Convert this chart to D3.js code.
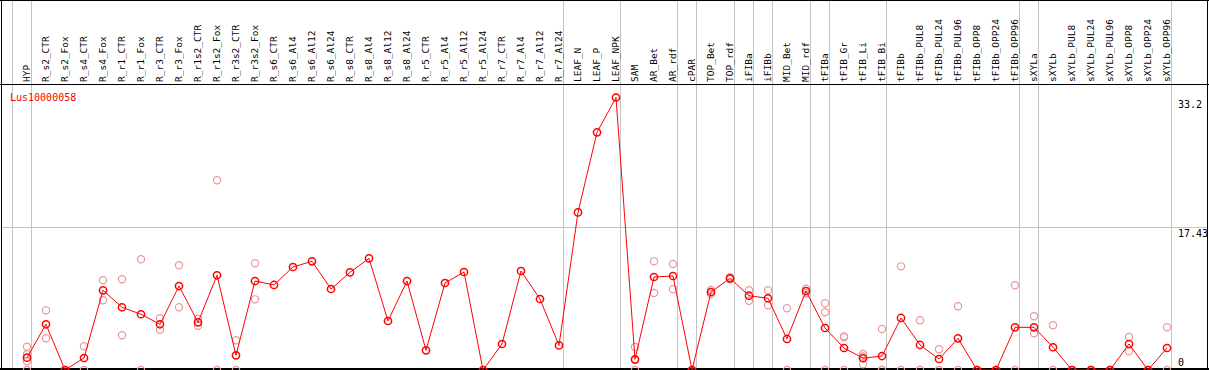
<!DOCTYPE html>
<html>
<head>
<meta charset="utf-8">
<script src="https://cdn.jsdelivr.net/npm/d3@7"></script>
<style>
  body { margin: 0; background: #fff; }
  svg { display: block; }
  text { font-family: "DejaVu Sans Mono", monospace; }
</style>
</head>
<body>
<div id="chart"></div>
<script>
/* CONSTANTS AND GLOBALS */
const width = 1209;
const height = 370;

/* DATA */
const categories = ["HYP", "R_s2_CTR", "R_s2_Fox", "R_s4_CTR", "R_s4_Fox", "R_r1_CTR", "R_r1_Fox",
  "R_r3_CTR", "R_r3_Fox", "R_r1s2_CTR", "R_r1s2_Fox", "R_r3s2_CTR", "R_r3s2_Fox",
  "R_s6_CTR", "R_s6_Al4", "R_s6_Al12", "R_s6_Al24", "R_s8_CTR", "R_s8_Al4", "R_s8_Al12", "R_s8_Al24",
  "R_r5_CTR", "R_r5_Al4", "R_r5_Al12", "R_r5_Al24", "R_r7_CTR", "R_r7_Al4", "R_r7_Al12", "R_r7_Al24",
  "LEAF_N", "LEAF_P", "LEAF_NPK", "SAM", "AR_Bet", "AR_rdf", "cPAR", "TOP_Bet", "TOP_rdf",
  "iFIBa", "iFIBb", "MID_Bet", "MID_rdf", "tFIBa", "tFIB_Gr", "tFIB_Li", "tFIB_Bi", "tFIBb",
  "tFIBb_PUL8", "tFIBb_PUL24", "tFIBb_PUL96", "tFIBb_OPP8", "tFIBb_OPP24", "tFIBb_OPP96",
  "sXYLa", "sXYLb", "sXYLb_PUL8", "sXYLb_PUL24", "sXYLb_PUL96", "sXYLb_OPP8", "sXYLb_OPP24", "sXYLb_OPP96"];

// mean expression per sample
const means = [1.5, 5.57, 0, 1.46, 9.71, 7.64, 6.79, 5.57, 10.23, 5.81, 11.54, 1.79, 10.84,
  10.36, 12.55, 13.24, 9.87, 11.9, 13.6, 5.97, 10.84,
  2.4, 10.6, 11.94, 0, 3.17, 12.06, 8.65, 3.0,
  19.2, 28.96, 33.2, 1.3, 11.33, 11.45, 0, 9.5, 11.17,
  9.05, 8.74, 3.78, 9.62, 5.12, 2.68, 1.43, 1.7, 6.34,
  3.05, 1.34, 3.86, 0, 0, 5.2,
  5.2, 2.77, 0, 0, 0, 3.17, 0, 2.68];

// replicates (null = no replicate)
const repA = [2.84, 7.27, 0, 2.89, 10.93, 11.05, 13.49, 6.3, 12.76, 6.25, 23.11, 3.62, 13.0,
  null, null, null, null, null, null, null, null,
  null, null, null, null, null, null, null, null,
  null, null, null, 2.8, 13.24, 12.91, 0, 9.75, 11.3,
  9.71, 9.71, 7.52, 9.9, 8.13, 4.1, 1.95, 5.0, 12.63,
  6.06, 2.52, 7.76, 0, 0, 10.32,
  6.54, 5.45, 0, 0, 0, 4.02, 0, 5.2];
const repB = [1.91, 3.86, 0, 0, 8.49, 4.23, 0, 4.91, 7.64, 5.4, 0, 0, 8.61,
  null, null, null, null, null, null, null, null,
  null, null, null, null, null, null, null, null,
  null, null, null, 1.2, 9.38, 9.83, 0, 9.25, 11.05,
  8.44, 7.88, 0, 9.35, 7.03, 3.98, 1.65, 0, 0,
  0, 0, 0, 0, 0, 0,
  4.47, 0, 0, 0, 0, 2.28, 0, 0];
const repC = [1.06, null, null, null, null, null, null, null, null, null, null, null, null,
  null, null, null, null, null, null, null, null,
  null, null, null, null, null, null, null, null,
  null, null, null, 0, null, null, null, null, null,
  null, null, null, null, 0, 0, 0.69, 0, null,
  null, null, null, null, null, null,
  null, null, null, null, null, null, null, null];
const repD = [0, null, null, null, null, null, null, null, null, null, null, null, null,
  null, null, null, null, null, null, null, null,
  null, null, null, null, null, null, null, null,
  null, null, null, null, null, null, null, null, null,
  null, null, null, null, null, null, null, null, null,
  null, null, null, null, null, null,
  null, null, null, null, null, null, null, null];

// last sample of each group (a separator line is drawn after it)
const groupEnds = ["HYP", "R_r7_Al24", "LEAF_NPK", "AR_rdf", "cPAR", "TOP_rdf", "iFIBa", "iFIBb",
  "MID_rdf", "tFIBa", "tFIB_Bi", "tFIBb_OPP96", "sXYLa", "sXYLb_OPP96"];

const geneName = "Lus10000058";
const yTicks = [33.2, 17.43, 0];

/* SCALES */
const xScale = d3.scalePoint()
  .domain(categories)
  .range([27, 1167]);

const yScale = d3.scaleLinear()
  .domain([0, d3.max(means)])
  .range([370, 97.5]);

/* HTML ELEMENTS */
const svg = d3.select("#chart")
  .append("svg")
  .attr("width", width)
  .attr("height", height)
  .style("background-color", "white");

// group separators
const sepX = [xScale(categories[0]) - 15].concat(groupEnds.map(c => xScale(c) + 4));
svg.selectAll(".sep")
  .data(sepX)
  .join("line")
  .attr("class", "sep")
  .attr("x1", d => Math.round(d) + 0.5)
  .attr("x2", d => Math.round(d) + 0.5)
  .attr("y1", 0)
  .attr("y2", 369)
  .attr("stroke", "#c4c4c4")
  .attr("stroke-width", 1);

// middle gridline
svg.append("line")
  .attr("x1", 2)
  .attr("x2", 1207)
  .attr("y1", Math.round(yScale(yTicks[1])) + 0.5)
  .attr("y2", Math.round(yScale(yTicks[1])) + 0.5)
  .attr("stroke", "#c4c4c4");

// frame
svg.append("line").attr("x1", 0).attr("x2", width).attr("y1", 0.5).attr("y2", 0.5).attr("stroke", "#000");
svg.append("line").attr("x1", 0).attr("x2", width).attr("y1", 84.5).attr("y2", 84.5).attr("stroke", "#000");
svg.append("line").attr("x1", 1.5).attr("x2", 1.5).attr("y1", 0).attr("y2", 370).attr("stroke", "#000");
svg.append("line").attr("x1", 1207.5).attr("x2", 1207.5).attr("y1", 0).attr("y2", 370).attr("stroke", "#000");
svg.append("line").attr("x1", 0).attr("x2", width).attr("y1", 369).attr("y2", 369)
  .attr("stroke", "#000").attr("stroke-width", 2);

// sample labels
svg.selectAll(".cat")
  .data(categories)
  .join("text")
  .attr("class", "cat")
  .attr("transform", d => `translate(${xScale(d) + 3},82) rotate(-90)`)
  .attr("font-size", "9.5px")
  .attr("fill", "#000")
  .text(d => d);

// replicate points
const reps = [];
[repA, repB, repC, repD].forEach(arr => {
  arr.forEach((v, i) => { if (v !== null) reps.push({ cat: categories[i], v: v }); });
});

svg.selectAll(".rep")
  .data(reps)
  .join("circle")
  .attr("class", "rep")
  .attr("cx", d => xScale(d.cat))
  .attr("cy", d => yScale(d.v))
  .attr("r", 3.6)
  .attr("fill", "none")
  .attr("stroke", "#e89a9a")
  .attr("stroke-width", 1.2);

// mean line
const pts = categories.map((c, i) => ({ cat: c, v: means[i] }));
const line = d3.line()
  .x(d => xScale(d.cat))
  .y(d => yScale(d.v));

svg.append("path")
  .datum(pts)
  .attr("d", line)
  .attr("fill", "none")
  .attr("stroke", "#ff0000")
  .attr("stroke-width", 1);

svg.selectAll(".mean")
  .data(pts)
  .join("circle")
  .attr("class", "mean")
  .attr("cx", d => xScale(d.cat))
  .attr("cy", d => yScale(d.v))
  .attr("r", 3.6)
  .attr("fill", "none")
  .attr("stroke", "#ff0000")
  .attr("stroke-width", 1.5);

// gene name
svg.append("text")
  .attr("x", 10)
  .attr("y", 101)
  .attr("font-size", "10px")
  .attr("fill", "#ff0000")
  .text(geneName);

// value labels on the right
svg.selectAll(".ytick")
  .data(yTicks)
  .join("text")
  .attr("class", "ytick")
  .attr("x", 1178)
  .attr("y", d => Math.min(yScale(d) + 10, 365.5))
  .attr("font-size", "10px")
  .attr("fill", "#000")
  .text(d => d);
</script>
</body>
</html>
